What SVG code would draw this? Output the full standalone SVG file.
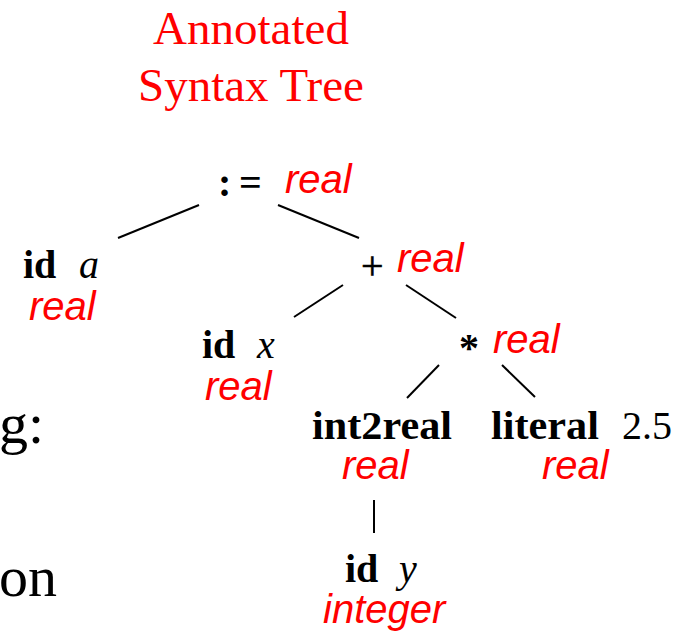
<svg xmlns="http://www.w3.org/2000/svg" width="686" height="632" viewBox="0 0 686 632">
  <style>
    .title { font-family: "Liberation Serif", "Times New Roman", serif; font-size: 47px; fill: #ff0000; }
    .op { font-family: "Liberation Serif", "Times New Roman", serif; font-size: 40px; fill: #000; }
    .kw { font-family: "Liberation Serif", "Times New Roman", serif; font-size: 40px; font-weight: bold; fill: #000; }
    .var { font-family: "Liberation Serif", "Times New Roman", serif; font-size: 40px; font-style: italic; fill: #000; }
    .type { font-family: "Liberation Sans", Arial, sans-serif; font-size: 40px; font-style: italic; fill: #ff0000; }
    .slide { font-family: "Liberation Serif", "Times New Roman", serif; font-size: 58px; fill: #000; }
    .edge { stroke: #000; stroke-width: 2; fill: none; }
  </style>

  <!-- heading -->
  <g id="heading">
    <text class="title" x="251" y="44" text-anchor="middle">Annotated</text>
    <text class="title" x="251" y="101" text-anchor="middle">Syntax Tree</text>
  </g>

  <!-- fragments of the surrounding slide text -->
  <g id="slide-text">
    <text class="slide" x="-1" y="443">g:</text>
    <text class="slide" x="-1" y="596">on</text>
  </g>

  <!-- tree edges -->
  <g id="edges">
    <line class="edge" x1="118" y1="238" x2="199" y2="205"/>
    <line class="edge" x1="278" y1="205" x2="359" y2="238"/>
    <line class="edge" x1="294" y1="317" x2="343" y2="285"/>
    <line class="edge" x1="406" y1="285" x2="456" y2="318"/>
    <line class="edge" x1="439" y1="365" x2="407" y2="398"/>
    <line class="edge" x1="502" y1="365" x2="535" y2="397"/>
    <line class="edge" x1="374" y1="500" x2="374" y2="533"/>
  </g>

  <!-- assignment node -->
  <g id="assign">
    <text class="kw" x="218" y="196" font-size="44">:</text>
    <text class="kw" x="239" y="196">=</text>
    <text class="type" x="285" y="193">real</text>
  </g>

  <g id="id-a">
    <text class="kw" x="23" y="278">id</text>
    <text class="var" x="79" y="278">a</text>
    <text class="type" x="29" y="320">real</text>
  </g>

  <g id="plus">
    <text class="op" x="361" y="279" font-size="45" stroke="#000" stroke-width="0.6">+</text>
    <text class="type" x="397" y="272">real</text>
  </g>

  <g id="id-x">
    <text class="kw" x="202" y="358">id</text>
    <text class="var" x="257" y="358">x</text>
    <text class="type" x="205" y="400">real</text>
  </g>

  <g id="times">
    <text class="kw" x="459" y="361" font-size="44">*</text>
    <text class="type" x="493" y="353">real</text>
  </g>

  <g id="int2real">
    <text class="kw" x="312" y="439" textLength="140" lengthAdjust="spacingAndGlyphs">int2real</text>
    <text class="type" x="342" y="479">real</text>
  </g>

  <g id="literal">
    <text class="kw" x="491" y="439" textLength="108" lengthAdjust="spacingAndGlyphs">literal</text>
    <text class="op" x="622" y="439">2.5</text>
    <text class="type" x="542" y="479">real</text>
  </g>

  <g id="id-y">
    <text class="kw" x="345" y="582">id</text>
    <text class="var" x="399" y="582">y</text>
    <text class="type" x="323" y="623">integer</text>
  </g>
</svg>
